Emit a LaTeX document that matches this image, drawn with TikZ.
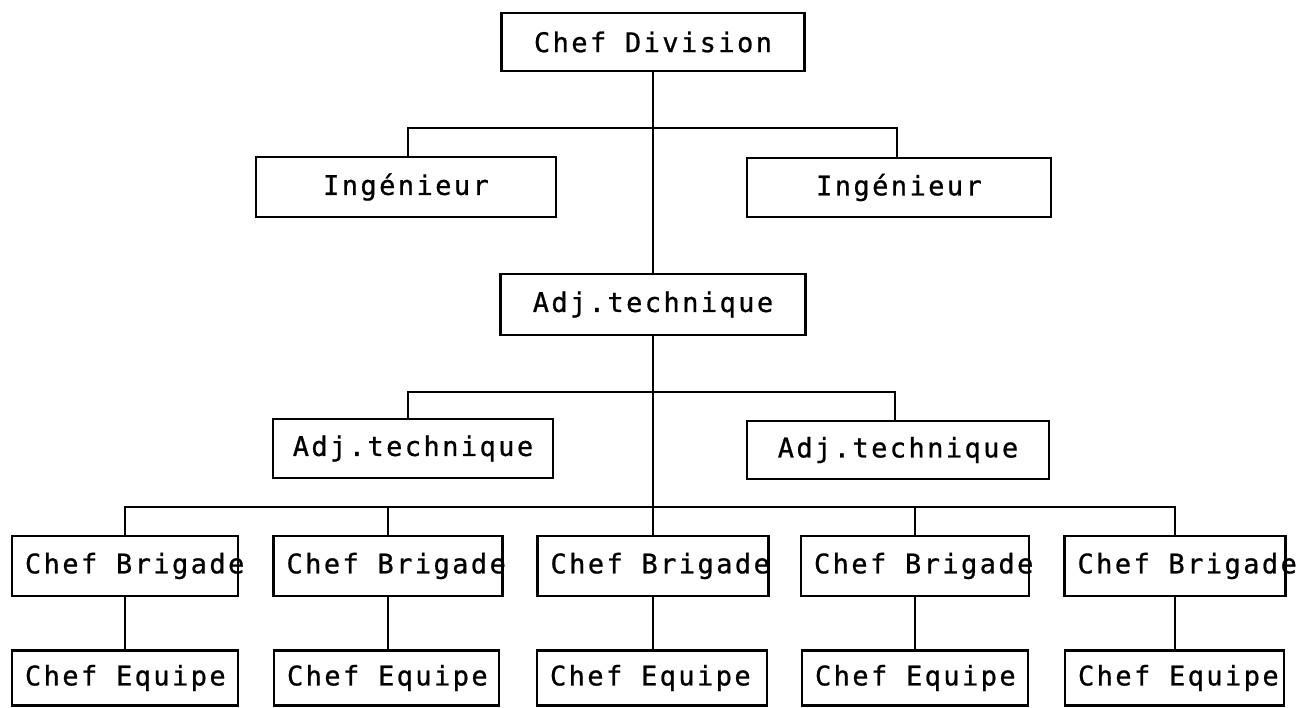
\documentclass[tikz,border=0pt]{standalone}
\usepackage{fontspec}
\newfontfamily\labfont[LetterSpace=9,FakeBold=0.8]{DejaVu Sans Mono}
\newcommand{\lefttxt}[2]{\makebox[#1][l]{#2}}
\begin{document}
\begin{tikzpicture}[x=1pt,y=-1pt,
  box/.style={draw, line width=2.4pt, inner sep=0pt, align=center,
    font=\labfont\fontsize{27}{30}\selectfont},
  lbox/.style={box, inner xsep=13pt},
  conn/.style={line width=1.6pt}]
\useasboundingbox (0,0) rectangle (1296,708);
% level 0
\node[box, minimum width=303pt, minimum height=58pt] (cd) at (653,42) {Chef Division};
% ingenieurs
\node[box, minimum width=300pt, minimum height=60pt] (ing1) at (406,187) {Ingénieur};
\node[box, minimum width=304pt, minimum height=59pt] (ing2) at (899,187.5) {Ingénieur};
% adjoints
\node[box, minimum width=305pt, minimum height=61pt] (adj0) at (653,304.5) {Adj.technique};
\node[box, minimum width=280pt, minimum height=59pt] (adj1) at (413,448.5) {Adj.technique};
\node[box, minimum width=302pt, minimum height=58pt] (adj2) at (898,450) {Adj.technique};
% chefs brigade
\node[lbox, minimum width=226pt, minimum height=60pt] (b1) at (125,566) {\lefttxt{200pt}{Chef Brigade}};
\node[lbox, minimum width=229pt, minimum height=60pt] (b2) at (388,566) {\lefttxt{203pt}{Chef Brigade}};
\node[lbox, minimum width=231pt, minimum height=60pt] (b3) at (653,566) {\lefttxt{205pt}{Chef Brigade}};
\node[lbox, minimum width=228pt, minimum height=60pt] (b4) at (915,566) {\lefttxt{202pt}{Chef Brigade}};
\node[lbox, minimum width=221pt, minimum height=60pt] (b5) at (1175,566) {\lefttxt{195pt}{Chef Brigade}};
% chefs equipe
\node[lbox, minimum width=226pt, minimum height=55pt] (e1) at (125,678) {\lefttxt{200pt}{Chef Equipe}};
\node[lbox, minimum width=225pt, minimum height=55pt] (e2) at (386.5,678) {\lefttxt{199pt}{Chef Equipe}};
\node[lbox, minimum width=230pt, minimum height=55pt] (e3) at (652,678) {\lefttxt{204pt}{Chef Equipe}};
\node[lbox, minimum width=226pt, minimum height=55pt] (e4) at (915,678) {\lefttxt{200pt}{Chef Equipe}};
\node[lbox, minimum width=219pt, minimum height=55pt] (e5) at (1174.5,678) {\lefttxt{193pt}{Chef Equipe}};
% bus coordinates
\coordinate (h1l) at (408,128);
\coordinate (h1r) at (897,128);
\coordinate (h2l) at (408,392);
\coordinate (h2r) at (895,392);
\coordinate (h3) at (653,507);
% connectors
\draw[conn] (cd.south) -- (adj0.north);
\draw[conn] (h1l |- ing1.north) -- (h1l) -- (h1r) -- (h1r |- ing2.north);
\draw[conn] (adj0.south) -- (b3.north);
\draw[conn] (h2l |- adj1.north) -- (h2l) -- (h2r) -- (h2r |- adj2.north);
\draw[conn] (b1.north) -- (b1.north |- h3) -- (b5.north |- h3) -- (b5.north);
\draw[conn] (b2.north) -- (b2.north |- h3);
\draw[conn] (b4.north) -- (b4.north |- h3);
\foreach \i in {1,...,5}{
  \draw[conn] (b\i.south) -- (b\i.south |- e\i.north);
}
\end{tikzpicture}
\end{document}
